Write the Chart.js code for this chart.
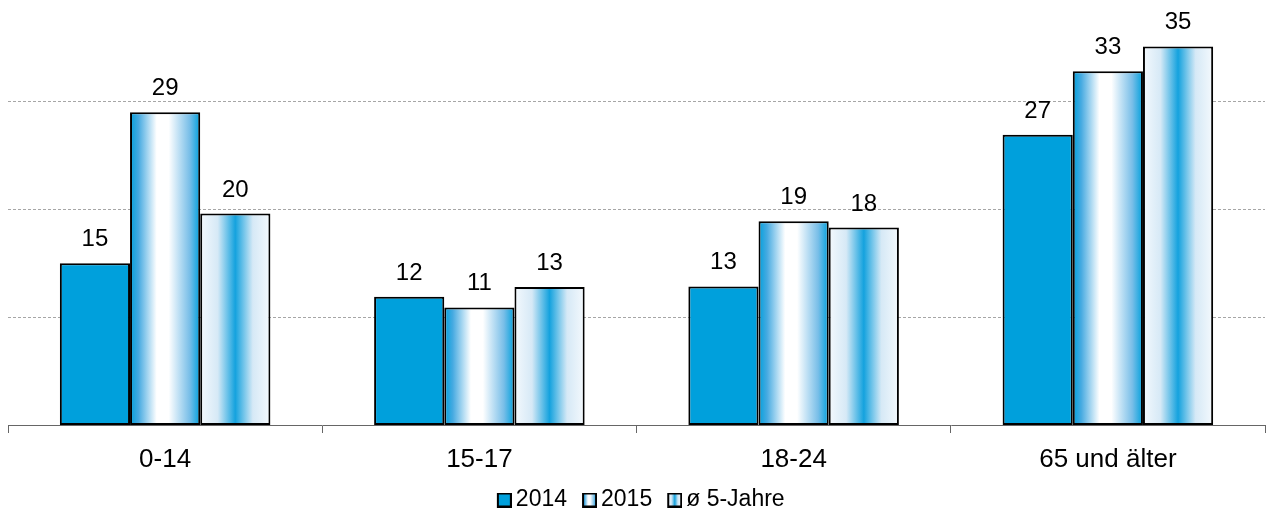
<!DOCTYPE html>
<html>
<head>
<meta charset="utf-8">
<script src="https://cdn.jsdelivr.net/npm/chart.js@4"></script>
<style>
  body { margin: 0; background: #fff; }
</style>
</head>
<body>
<canvas id="myChart" width="1267" height="511"></canvas>
<script>
const categories = ['0-14', '15-17', '18-24', '65 und älter'];
const seriesNames = ['2014', '2015', 'ø 5-Jahre'];
const values2014 = [15.0, 11.9, 12.85, 26.9];
const values2015 = [29.0, 10.9, 18.9, 32.8];
const valuesAvg = [19.6, 12.8, 18.3, 35.1];
const yTicks = [10, 20, 30];

const BLUE = 'rgb(0,160,220)';
const FONT = '"Liberation Sans", Arial, sans-serif';

// gradient stops per series (null = solid fill)
const fills = [
  null,
  [[0, BLUE], [0.12, 'rgb(70,170,225)'], [0.38, '#ffffff'], [0.55, '#ffffff'], [0.85, 'rgb(120,190,232)'], [1, BLUE]],
  [[0, '#f4f9fd'], [0.25, '#d6e9f6'], [0.5, 'rgb(20,162,222)'], [0.75, '#d6e9f6'], [1, '#f4f9fd']]
];

function makeGradient(ctx, x0, x1, stops) {
  const g = ctx.createLinearGradient(x0, 0, x1, 0);
  stops.forEach(s => g.addColorStop(s[0], s[1]));
  return g;
}

// legend marker: transparent left half, box on the right half
function legendMarker(i) {
  const c = document.createElement('canvas');
  c.width = 31; c.height = 15;
  const cx = c.getContext('2d');
  cx.fillStyle = fills[i] ? makeGradient(cx, 17, 30, fills[i]) : BLUE;
  cx.fillRect(17, 1, 13, 13);
  cx.lineWidth = 2;
  cx.strokeStyle = '#000';
  cx.strokeRect(17, 1, 13, 13);
  return c;
}

const gradientBars = {
  id: 'gradientBars',
  beforeDatasetsDraw(chart) {
    const ctx = chart.ctx;
    chart.data.datasets.forEach((ds, di) => {
      if (!fills[di]) return;
      chart.getDatasetMeta(di).data.forEach(el => {
        const x0 = el.x - el.width / 2;
        const g = makeGradient(ctx, x0, x0 + el.width, fills[di]);
        el.options = Object.assign({}, el.options, { backgroundColor: g });
      });
    });
  },
  afterDatasetsDraw(chart) {
    const ctx = chart.ctx;
    ctx.save();
    ctx.font = '24px ' + FONT;
    ctx.fillStyle = '#000';
    ctx.textAlign = 'center';
    ctx.textBaseline = 'alphabetic';
    chart.data.datasets.forEach((ds, di) => {
      chart.getDatasetMeta(di).data.forEach((el, i) => {
        ctx.fillText(Math.round(ds.data[i]), el.x, el.y - 17);
      });
    });
    ctx.restore();
  }
};

const allValues = [values2014, values2015, valuesAvg];

const data = {
  labels: categories,
  datasets: seriesNames.map((name, i) => ({
    label: name,
    data: allValues[i],
    backgroundColor: BLUE,
    borderColor: '#000',
    borderWidth: 2,
    borderSkipped: false,
    pointStyle: legendMarker(i),
    categoryPercentage: 0.67,
    barPercentage: 1.0
  }))
};

const config = {
  type: 'bar',
  data: data,
  plugins: [gradientBars],
  options: {
    responsive: false,
    animation: false,
    layout: {
      padding: { left: 8, right: 2, top: 0, bottom: -10.5 }
    },
    plugins: {
      tooltip: { enabled: false },
      legend: {
        position: 'bottom',
        labels: {
          usePointStyle: true,
          pointStyleWidth: 16,
          padding: 6.5,
          color: '#000',
          font: { family: FONT, size: 23 }
        }
      }
    },
    scales: {
      x: {
        afterFit(scale) {
          scale.height = 57;
        },
        grid: {
          offset: true,
          drawOnChartArea: false,
          tickLength: 8,
          color: '#666'
        },
        border: { color: '#666', width: 1 },
        ticks: {
          padding: 11,
          color: '#000',
          font: { family: FONT, size: 26 }
        }
      },
      y: {
        min: 0,
        max: 39.4,
        afterBuildTicks(scale) {
          scale.ticks = yTicks.map(v => ({ value: v }));
        },
        ticks: { display: false },
        grid: {
          drawTicks: false,
          color: '#a6a6a6',
          lineWidth: 1
        },
        border: { display: false, dash: [3, 2] }
      }
    }
  }
};

const myChart = new Chart(document.getElementById('myChart'), config);
</script>
</body>
</html>
